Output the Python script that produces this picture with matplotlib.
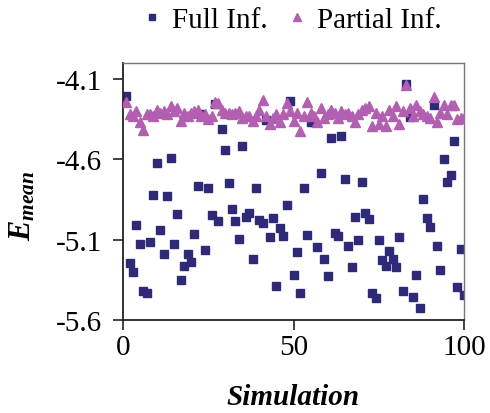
import matplotlib
matplotlib.use("Agg")
import matplotlib.pyplot as plt
import numpy as np

plt.rcParams['font.family'] = ['Liberation Serif', 'DejaVu Serif']
plt.rcParams['mathtext.fontset'] = 'custom'
plt.rcParams['mathtext.rm'] = 'Liberation Serif'
plt.rcParams['mathtext.it'] = 'Liberation Serif:italic'
plt.rcParams['mathtext.bf'] = 'Liberation Serif:bold'
plt.rcParams['mathtext.bfit'] = 'Liberation Serif:bold:italic'

simulation = list(range(1, 101))

full_inf = [
    -4.205, -5.248, -5.300, -5.008, -5.124, -5.418, -5.432, -5.115, -4.822, -4.625,
    -5.040, -5.186, -4.830, -4.590, -5.124, -4.937, -5.353, -5.262, -5.186, -5.240,
    -5.062, -4.768, -4.320, -5.167, -4.776, -4.946, -4.258, -4.981, -4.410, -4.539,
    -4.748, -4.909, -4.981, -5.095, -4.518, -4.960, -4.936, -5.219, -4.779, -4.980,
    -4.998, -4.352, -5.084, -4.968, -5.390, -5.027, -5.078, -4.884, -4.236, -5.318,
    -5.178, -5.430, -4.776, -5.070, -4.367, -4.370, -5.148, -4.687, -5.221, -5.328,
    -4.464, -5.060, -5.080, -4.456, -4.725, -5.140, -5.270, -4.956, -5.100, -4.739,
    -4.936, -4.974, -5.430, -5.460, -5.100, -5.229, -5.266, -5.173, -5.221, -5.270,
    -5.085, -5.417, -4.130, -4.336, -5.455, -5.318, -5.525, -4.849, -4.968, -5.022,
    -4.264, -5.138, -5.291, -4.600, -4.740, -4.700, -4.485, -5.397, -5.159, -5.443,
]

partial_inf = [
    -4.245, -4.32, -4.33, -4.30, -4.37, -4.415, -4.32, -4.32, -4.33, -4.29,
    -4.31, -4.30, -4.32, -4.27, -4.30, -4.28, -4.36, -4.31, -4.33, -4.31,
    -4.30, -4.29, -4.33, -4.32, -4.35, -4.33, -4.24, -4.25, -4.29, -4.31,
    -4.31, -4.32, -4.31, -4.30, -4.34, -4.33, -4.33, -4.36, -4.33, -4.29,
    -4.23, -4.33, -4.38, -4.34, -4.32, -4.37, -4.32, -4.25, -4.30, -4.36,
    -4.31, -4.425, -4.33, -4.24, -4.31, -4.33, -4.37, -4.28, -4.34, -4.32,
    -4.29, -4.31, -4.34, -4.30, -4.32, -4.31, -4.33, -4.37, -4.32, -4.29,
    -4.28, -4.27, -4.39, -4.31, -4.38, -4.33, -4.39, -4.29, -4.33, -4.27,
    -4.38, -4.30, -4.135, -4.28, -4.33, -4.26, -4.30, -4.32, -4.33, -4.34,
    -4.21, -4.37, -4.31, -4.26, -4.32, -4.26, -4.26, -4.35, -4.34, -4.34,
]

x_ticks = [0, 50, 100]
y_ticks = [-5.6, -5.1, -4.6, -4.1]

sq_color = '#2E2A78'
tri_color = '#B35FB1'

fig = plt.figure(figsize=(4.9, 4.14), dpi=100)
ax = fig.add_axes([0.2504, 0.2246, 0.6972, 0.6208])

ax.plot(simulation, full_inf, linestyle='none', marker='s', markersize=5.6,
        color=sq_color, markeredgecolor=sq_color, label='Full Inf.', zorder=2)
ax.plot(simulation, partial_inf, linestyle='none', marker='^', markersize=6.8,
        color=tri_color, markeredgecolor=tri_color, label='Partial Inf.', zorder=3)

ax.set_xlim(0, 100)
ax.set_ylim(-5.6, -4.0)
ax.set_xticks(x_ticks)
ax.set_yticks(y_ticks)
ax.set_yticklabels([f'{v:.1f}' for v in y_ticks])
ax.tick_params(axis='both', direction='out', length=7, width=1.2, labelsize=21, color='#222222')
ax.tick_params(axis='y', pad=8)
ax.tick_params(axis='x', pad=3)

for s in ['left', 'bottom']:
    ax.spines[s].set_color('#222222')
    ax.spines[s].set_linewidth(1.3)
for s in ['top', 'right']:
    ax.spines[s].set_color('#777777')
    ax.spines[s].set_linewidth(1.0)

ax.set_xlabel('Simulation', fontsize=21, fontweight='bold', style='italic')
ax.xaxis.set_label_coords(0.5, -0.245)
ax.set_ylabel(r'$\mathbfit{E}_{\mathbfit{mean}}$', fontsize=22)
ax.yaxis.set_label_coords(-0.25, 0.45)

fig.legend(loc='upper center', bbox_to_anchor=(0.597, 1.045), ncol=2, frameon=False,
           fontsize=21, markerscale=0.8, handlelength=0.6, handletextpad=0.4,
           columnspacing=0.7)

fig.savefig('out.png', dpi=100)
